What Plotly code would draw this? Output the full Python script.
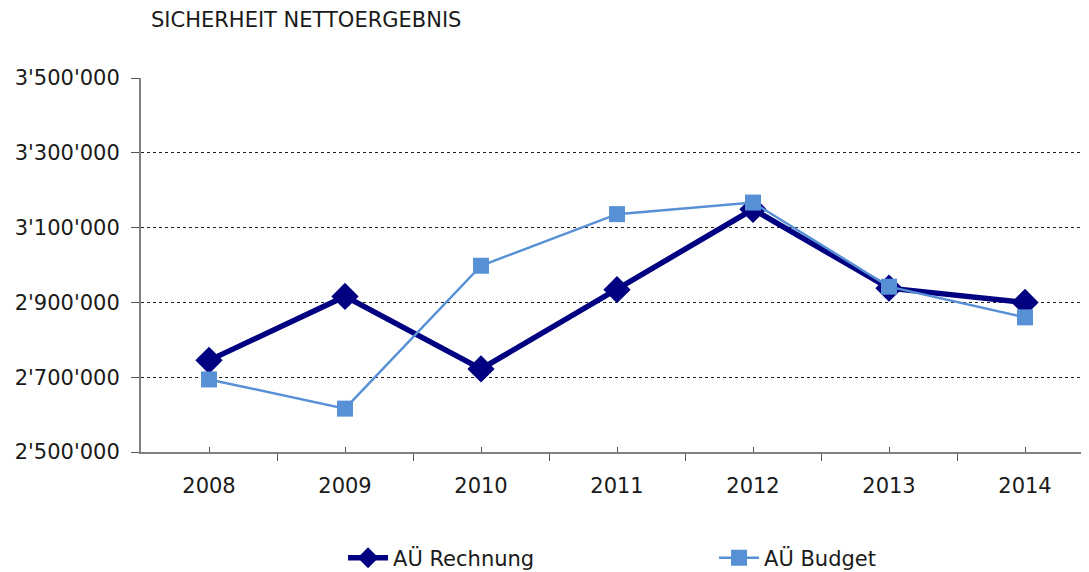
import plotly.graph_objects as go

years = ["2008", "2009", "2010", "2011", "2012", "2013", "2014"]
rechnung = [2745000, 2916000, 2722000, 2934000, 3149000, 2938000, 2900000]
budget = [2694000, 2616000, 2998000, 3136000, 3167000, 2942000, 2860000]
y_ticks = [2500000, 2700000, 2900000, 3100000, 3300000, 3500000]
y_labels = ["2'500'000", "2'700'000", "2'900'000", "3'100'000", "3'300'000", "3'500'000"]

xpos = list(range(len(years)))
FONT = "DejaVu Sans, Liberation Sans, sans-serif"
TXT = "#1a1a1a"

fig = go.Figure()
fig.add_trace(go.Scatter(
    x=xpos, y=rechnung, name="AÜ Rechnung", mode="lines+markers",
    line=dict(color="#000080", width=5.5),
    marker=dict(symbol="diamond", size=21, color="#000080"),
))
fig.add_trace(go.Scatter(
    x=xpos, y=budget, name="AÜ Budget", mode="lines+markers",
    line=dict(color="#5890D6", width=2.5),
    marker=dict(symbol="square", size=16, color="#5890D6"),
))

fig.update_layout(
    width=1085, height=572,
    margin=dict(l=133, r=0, t=70, b=128),
    paper_bgcolor="white", plot_bgcolor="white",
    font=dict(family=FONT, size=21, color=TXT),
    showlegend=True,
    legend=dict(orientation="h", xref="container", yref="container",
                x=0.3088, xanchor="left", y=0.0741, yanchor="top",
                entrywidth=316, entrywidthmode="pixels",
                font=dict(size=21, color=TXT), itemwidth=40),
    annotations=[dict(text="SICHERHEIT NETTOERGEBNIS", xref="paper", yref="paper",
                      x=0.008, y=1.0, xanchor="left", yanchor="middle", yshift=58,
                      showarrow=False, font=dict(size=21, color=TXT, family=FONT))],
)
fig.update_xaxes(
    range=[-0.5, 6.5], tickmode="array", tickvals=xpos, ticktext=years,
    ticks="inside", ticklen=5, tickcolor="#555555", tickwidth=1,
    showline=True, linecolor="#808080", linewidth=2, showgrid=False, zeroline=False,
    tickfont=dict(size=21, color=TXT), ticklabelstandoff=14,
    minor=dict(tickmode="linear", tick0=0.5, dtick=1, ticks="outside", ticklen=7,
               tickcolor="#555555", tickwidth=1, showgrid=False),
)
fig.update_yaxes(
    range=[2500000, 3500000], tickmode="array", tickvals=y_ticks, ticktext=y_labels,
    ticks="outside", ticklen=8, tickcolor="#555555",
    showline=True, linecolor="#808080", linewidth=2,
    showgrid=True, gridcolor="#222222", griddash="dot", gridwidth=1, zeroline=False,
    tickfont=dict(size=21, color=TXT), ticklabelstandoff=7,
)
fig.write_html("out.html")
